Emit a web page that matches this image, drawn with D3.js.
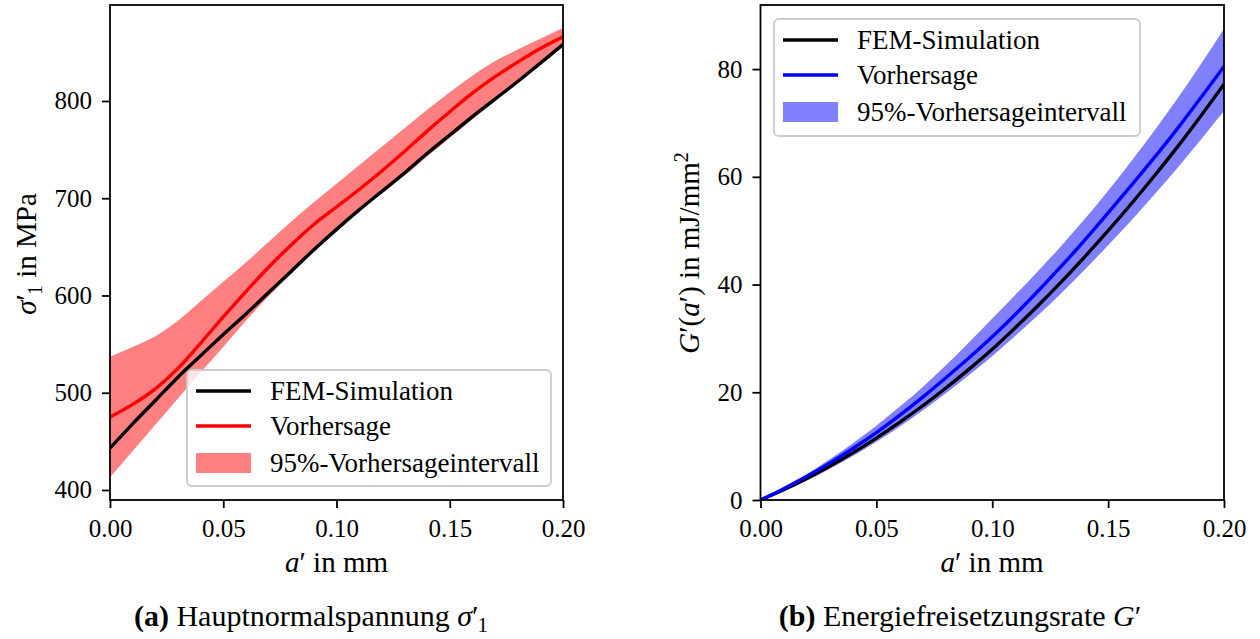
<!DOCTYPE html>
<html><head><meta charset="utf-8">
<script src="https://cdn.jsdelivr.net/npm/d3@7"></script>
<style>
html,body{margin:0;padding:0;background:#fff;}
svg{display:block;font-family:"Liberation Serif","DejaVu Serif",serif;}
</style></head><body>
<svg id="chart" width="1260" height="639"></svg>
<script>
// ---------- data ----------
const aValues   = [0,0.01,0.02,0.03,0.04,0.05,0.06,0.07,0.08,0.09,0.10,0.11,0.12,0.13,0.14,0.15,0.16,0.17,0.18,0.19,0.20];
const sigmaFEM   = [443,468,492,516,538,560,581,603,625,647,668,688,707,726,746,765,784,802,820,839,858];
const sigmaPred  = [475,488,504,525,551,578,604,629,652,673,691,709,728,748,769,789,808,825,840,854,866];
const sigmaLower = [413,440,467,494,521,547,574,599,622,645,666,686,705,723,743,762,781,800,818,837,856];
const sigmaUpper = [537,547,558,574,594,614,634,655,676,696,715,734,753,772,791,809,826,841,853,864,875];
const gFEM   = [0,1.9,4.0,6.3,8.8,11.5,14.4,17.5,20.8,24.3,28.0,32.0,36.2,40.6,45.2,50.0,55.0,60.2,65.6,71.3,77.2];
const gPred  = [0,2.1,4.4,6.9,9.6,12.5,15.7,19.1,22.7,26.4,30.3,34.5,38.9,43.5,48.3,53.3,58.4,63.6,69.0,74.7,80.5];
const gLower = [0,1.7,3.6,5.8,8.2,10.8,13.6,16.6,19.8,23.2,26.7,30.5,34.4,38.5,42.8,47.3,51.9,56.7,61.7,66.9,72.2];
const gUpper = [0,2.3,4.8,7.6,10.6,13.8,17.3,21.0,25.0,29.3,33.7,38.1,42.6,47.3,52.2,57.4,62.9,68.6,74.6,80.9,87.5];
const xTicks = [0,0.05,0.10,0.15,0.20];
const sigmaTicks = [400,500,600,700,800];
const gTicks = [0,20,40,60,80];
const legendLabels = ["FEM-Simulation","Vorhersage","95%-Vorhersageintervall"];

// ---------- drawing ----------
const svg = d3.select("#chart");
const FONT = '"Liberation Serif","DejaVu Serif",serif';
const FS_TICK = 25, FS_LEG = 27, FS_LAB = 29, FS_CAP = 30;

function panel(cfg){
  const x = d3.scaleLinear().domain([0,0.2]).range([cfg.left, cfg.right]);
  const y = d3.scaleLinear().domain(cfg.yDomain).range([cfg.bottom, cfg.top]);
  const g = svg.append("g");
  const clipId = "clip" + cfg.id;
  g.append("clipPath").attr("id", clipId).append("rect")
    .attr("x", cfg.left).attr("y", cfg.top)
    .attr("width", cfg.right - cfg.left).attr("height", cfg.bottom - cfg.top);
  const data = aValues.map((a,i)=>({a, fem:cfg.fem[i], pred:cfg.pred[i], lo:cfg.lo[i], hi:cfg.hi[i]}));
  const dg = g.append("g").attr("clip-path", `url(#${clipId})`);
  dg.append("path").datum(data)
    .attr("d", d3.area().x(d=>x(d.a)).y0(d=>y(d.lo)).y1(d=>y(d.hi)).curve(d3.curveMonotoneX))
    .attr("fill", cfg.bandColor).attr("stroke","none");
  dg.append("path").datum(data)
    .attr("d", d3.line().x(d=>x(d.a)).y(d=>y(d.fem)).curve(d3.curveMonotoneX))
    .attr("fill","none").attr("stroke","#000").attr("stroke-width",3.4);
  dg.append("path").datum(data)
    .attr("d", d3.line().x(d=>x(d.a)).y(d=>y(d.pred)).curve(d3.curveMonotoneX))
    .attr("fill","none").attr("stroke",cfg.lineColor).attr("stroke-width",3.4);

  // axes
  const ax = g.append("g").attr("transform",`translate(0,${cfg.bottom})`)
    .call(d3.axisBottom(x).tickValues(xTicks).tickSize(8).tickPadding(11).tickFormat(d3.format(".2f")));
  const ay = g.append("g").attr("transform",`translate(${cfg.left},0)`)
    .call(d3.axisLeft(y).tickValues(cfg.yTicks).tickSize(8).tickPadding(10).tickFormat(d3.format("d")));
  [ax, ay].forEach(a=>{
    a.select(".domain").remove();
    a.selectAll("line").attr("stroke","#000").attr("stroke-width",1.8);
    a.selectAll("text").attr("fill","#000").style("font-size",FS_TICK+"px").style("font-family",FONT);
  });
  // spines
  g.append("rect").attr("x",cfg.left).attr("y",cfg.top)
    .attr("width",cfg.right-cfg.left).attr("height",cfg.bottom-cfg.top)
    .attr("fill","none").attr("stroke","#000").attr("stroke-width",1.8);

  // legend
  const L = cfg.legend;
  const lg = g.append("g");
  lg.append("rect").attr("x",L.x).attr("y",L.y).attr("width",L.w).attr("height",L.h)
    .attr("rx",5).attr("fill","rgba(255,255,255,0.8)").attr("stroke","#cccccc").attr("stroke-width",1.8);
  const rowY = [L.y+21, L.y+56, L.y+93];
  const hx0 = L.x+9, hx1 = L.x+64;
  lg.append("line").attr("x1",hx0).attr("x2",hx1).attr("y1",rowY[0]).attr("y2",rowY[0]).attr("stroke","#000").attr("stroke-width",3.4);
  lg.append("line").attr("x1",hx0).attr("x2",hx1).attr("y1",rowY[1]).attr("y2",rowY[1]).attr("stroke",cfg.lineColor).attr("stroke-width",3.4);
  lg.append("rect").attr("x",hx0).attr("y",rowY[2]-10).attr("width",hx1-hx0).attr("height",20).attr("fill",cfg.bandColor);
  legendLabels.forEach((t,i)=>{
    lg.append("text").attr("x",L.x+83).attr("y",rowY[i]+9).style("font-size",FS_LEG+"px").text(t);
  });
  return {x,y,g};
}

panel({id:1,left:110,right:563,top:5,bottom:500,yDomain:[389.7,898.7],yTicks:sigmaTicks,
  fem:sigmaFEM,pred:sigmaPred,lo:sigmaLower,hi:sigmaUpper,bandColor:"#ff8080",lineColor:"#ff0000",
  legend:{x:187,y:370,w:364,h:116}});
panel({id:2,left:760.5,right:1224,top:5,bottom:500,yDomain:[0,91.9],yTicks:gTicks,
  fem:gFEM,pred:gPred,lo:gLower,hi:gUpper,bandColor:"#8080ff",lineColor:"#0000ff",
  legend:{x:774,y:19,w:366,h:117}});

// axis labels
function xlabel(cx){
  const t = svg.append("text").attr("x",cx).attr("y",572).attr("text-anchor","middle").style("font-size",FS_LAB+"px");
  t.append("tspan").attr("font-style","italic").text("a");
  t.append("tspan").text("′ in mm");
}
xlabel(336.5); xlabel(992);

// left y label
{
  const t = svg.append("text").attr("transform","translate(36,254) rotate(-90)").attr("text-anchor","middle").style("font-size",FS_LAB+"px");
  t.append("tspan").attr("font-style","italic").text("σ");
  t.append("tspan").text("′");
  t.append("tspan").attr("dx",-1).attr("dy",6).style("font-size","20px").text("1");
  t.append("tspan").attr("dy",-6).text(" in MPa");
}
// right y label
{
  const t = svg.append("text").attr("transform","translate(699,253) rotate(-90)").attr("text-anchor","middle").style("font-size",FS_LAB+"px");
  t.append("tspan").attr("font-style","italic").text("G");
  t.append("tspan").text("′(");
  t.append("tspan").attr("font-style","italic").text("a");
  t.append("tspan").text("′) in mJ/mm");
  t.append("tspan").attr("dy",-11).style("font-size","20px").text("2");
}
// captions
{
  const t = svg.append("text").attr("x",311).attr("y",626).attr("text-anchor","middle").style("font-size",FS_CAP+"px");
  t.append("tspan").attr("font-weight","bold").text("(a)");
  t.append("tspan").text(" Hauptnormalspannung ");
  t.append("tspan").attr("font-style","italic").text("σ");
  t.append("tspan").text("′");
  t.append("tspan").attr("dx",-1).attr("dy",6).style("font-size","21px").text("1");
}
{
  const t = svg.append("text").attr("x",960).attr("y",626).attr("text-anchor","middle").style("font-size",FS_CAP+"px");
  t.append("tspan").attr("font-weight","bold").text("(b)");
  t.append("tspan").text(" Energiefreisetzungsrate ");
  t.append("tspan").attr("font-style","italic").text("G");
  t.append("tspan").text("′");
}
</script>
</body></html>
